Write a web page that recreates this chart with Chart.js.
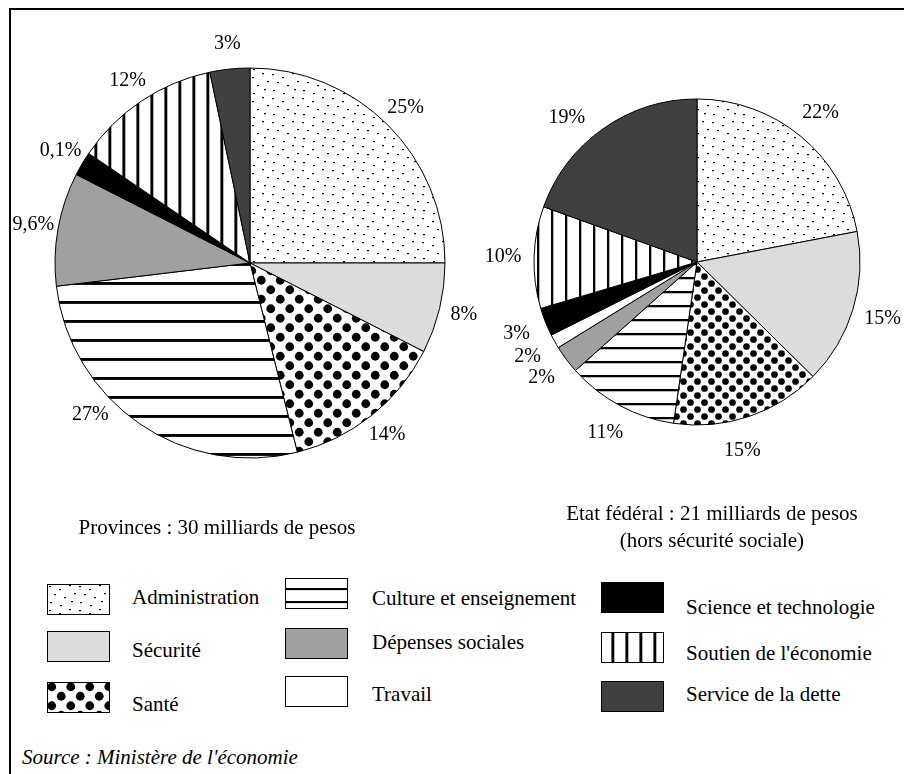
<!DOCTYPE html>
<html lang="fr">
<head>
<meta charset="utf-8">
<title>Dépenses publiques</title>
<script src="https://cdn.jsdelivr.net/npm/chart.js@4.4.1/dist/chart.umd.min.js"></script>
<style>
  body { margin: 0; background: #fff; font-family: "Liberation Serif", "Times New Roman", serif; color: #000; }
  #page { position: relative; width: 904px; height: 774px; overflow: hidden; }
  #frame { position: absolute; left: 9px; top: 8px; right: -10px; bottom: -10px; border-left: 2px solid #000; border-top: 2px solid #000; }
  canvas.pie { position: absolute; top: 0; }
  #pieProv { left: 0; }
  #pieFed { left: 470px; }
  .title { position: absolute; font-size: 21px; line-height: 27px; text-align: center; white-space: nowrap; }
  .sw { position: absolute; }
  .lbl { position: absolute; font-size: 21px; line-height: 24px; white-space: nowrap; }
  #source { position: absolute; left: 22px; top: 745px; font-size: 21px; line-height: 24px; font-style: italic; }
</style>
</head>
<body>
<div id="page">
  <div id="frame"></div>
  <canvas id="pieProv" class="pie" width="500" height="526"></canvas>
  <canvas id="pieFed" class="pie" width="454" height="524"></canvas>
  <div class="title" style="left:0; width:434px; top:514px;">Provinces : 30 milliards de pesos</div>
  <div class="title" style="left:512px; width:400px; top:500px;">Etat fédéral : 21 milliards de pesos<br>(hors sécurité sociale)</div>
  <div id="legend"></div>
  <div id="source">Source : Ministère de l'économie</div>
</div>
<script>
// categories (same order in both pies and in the legend)
const categories = [
  "Administration", "Sécurité", "Santé",
  "Culture et enseignement", "Dépenses sociales", "Travail",
  "Science et technologie", "Soutien de l'économie", "Service de la dette"
];
// share of each pie as drawn
const provincesValues = [25, 7.5, 13.6, 27, 9.4, 0, 2, 12.2, 3.3];
const federalValues = [22, 15.4, 14.9, 11.1, 2.8, 1.4, 2.8, 10.1, 19.5];
// percentages printed next to the slices
const provincesLabels = ["25%", "8%", "14%", "27%", "9,6%", "", "0,1%", "12%", "3%"];
const federalLabels = ["22%", "15%", "15%", "11%", "2%", "2%", "3%", "10%", "19%"];

// fill style of each category
const fills = ["stipple", "#dcdcdc", "bigdots", "hlines", "#a0a0a0", "#ffffff", "#000000", "vlines", "#404040"];

function tile(w, h, draw) {
  const c = document.createElement("canvas");
  c.width = w; c.height = h;
  const g = c.getContext("2d");
  g.fillStyle = "#fff";
  g.fillRect(0, 0, w, h);
  g.fillStyle = "#000";
  draw(g, w, h);
  return g.createPattern(c, "repeat");
}

// s = size of the pattern (1 for the big pie)
function makeFill(kind, s) {
  if (kind === "stipple") {
    return tile(30, 24, (g) => {
      [[2, 2], [12, 5], [22, 1], [7, 10], [17, 13], [27, 9], [3, 18], [13, 21], [24, 17]]
        .forEach(([x, y]) => g.fillRect(x, y, 2, 1.2));
    });
  }
  if (kind === "bigdots") {
    const w = Math.round(19 * s), r = 4.4 * s;
    return tile(w, w, (g) => {
      for (let dx = -1; dx <= 1; dx++) {
        for (let dy = -1; dy <= 1; dy++) {
          [[w / 4, w / 4], [3 * w / 4, 3 * w / 4]].forEach(([x, y]) => {
            g.beginPath();
            g.arc(x + dx * w, y + dy * w, r, 0, Math.PI * 2);
            g.fill();
          });
        }
      }
    });
  }
  if (kind === "hlines") {
    const h = Math.round(19 * s);
    return tile(8, h, (g) => g.fillRect(0, h - 3, 8, 2.6 * s + 0.3));
  }
  if (kind === "vlines") {
    return tile(14, 8, (g) => g.fillRect(13 - 2.6 * s, 0, 2.6 * s + 0.3, 8));
  }
  return kind;
}

// percent labels around the pie
function labelPlugin(texts, offset, nudge) {
  return {
    id: "pctLabels",
    afterDatasetsDraw(chart) {
      const ctx = chart.ctx;
      const meta = chart.getDatasetMeta(0);
      ctx.save();
      ctx.font = '20px "Liberation Serif", "Times New Roman", serif';
      ctx.fillStyle = "#000";
      ctx.textAlign = "center";
      ctx.textBaseline = "middle";
      meta.data.forEach((arc, i) => {
        if (!texts[i]) return;
        const p = arc.getProps(["x", "y", "startAngle", "endAngle", "outerRadius"], true);
        const a = (p.startAngle + p.endAngle) / 2 + ((nudge[i] || 0) * Math.PI) / 180;
        const r = p.outerRadius + offset;
        ctx.fillText(texts[i], p.x + Math.cos(a) * r, p.y + Math.sin(a) * r);
      });
      ctx.restore();
    }
  };
}

function makePie(id, values, texts, radius, s, offset, nudge) {
  return new Chart(document.getElementById(id), {
    type: "pie",
    data: {
      labels: categories,
      datasets: [{
        data: values,
        backgroundColor: fills.map((f) => makeFill(f, s)),
        borderColor: "#000",
        borderWidth: 1
      }]
    },
    options: {
      responsive: false,
      animation: false,
      radius: radius,
      layout: { padding: 0 },
      events: [],
      plugins: { legend: { display: false }, tooltip: { enabled: false } }
    },
    plugins: [labelPlugin(texts, offset, nudge)]
  });
}

makePie("pieProv", provincesValues, provincesLabels, 195, 1, 25, { 3: 12 });
makePie("pieFed", federalValues, federalLabels, 163, 0.76, 31, { 2: 5, 8: -7 });

// legend: three columns of three entries
const colSwatchX = [47, 285, 601];
const colTextX = [132, 372, 686];
const swatchTop = [[584, 631, 682], [578, 628, 676], [582, 632, 681]];
const textMid = [[597, 650, 704], [598, 642, 694], [607, 653, 694]];
const legend = document.getElementById("legend");
categories.forEach((name, i) => {
  const col = Math.floor(i / 3), row = i % 3;
  const c = document.createElement("canvas");
  c.width = 63; c.height = 31;
  c.className = "sw";
  c.style.left = colSwatchX[col] + "px";
  c.style.top = swatchTop[col][row] + "px";
  const g = c.getContext("2d");
  g.fillStyle = makeFill(fills[i], fills[i] === "hlines" ? 0.7 : 1);
  g.fillRect(0, 0, 63, 31);
  g.strokeStyle = "#000";
  g.lineWidth = 1;
  g.strokeRect(0.5, 0.5, 62, 30);
  legend.appendChild(c);

  const t = document.createElement("div");
  t.className = "lbl";
  t.textContent = name;
  t.style.left = colTextX[col] + "px";
  t.style.top = (textMid[col][row] - 12) + "px";
  legend.appendChild(t);
});
</script>
</body>
</html>
